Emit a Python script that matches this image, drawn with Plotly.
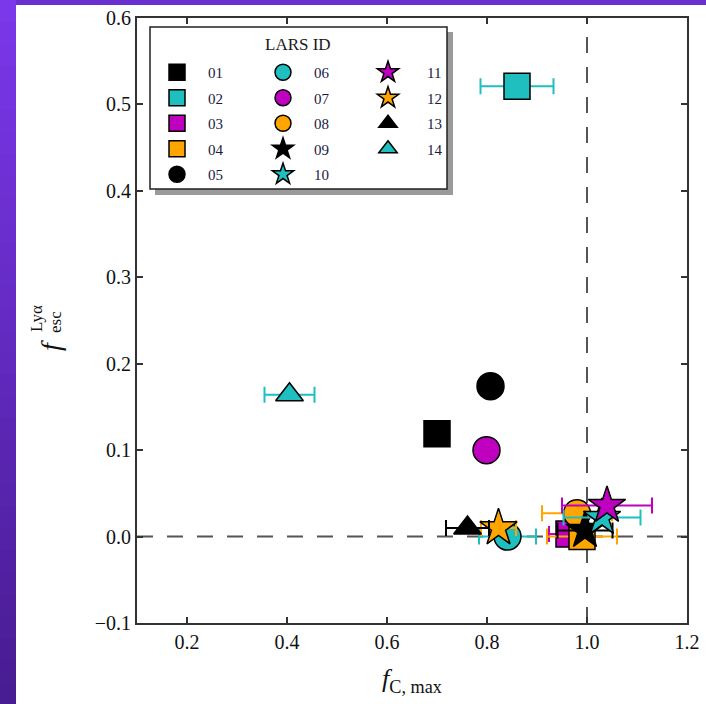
import plotly.graph_objects as go

# ---------------- data ----------------
lars_ids = ["01", "02", "03", "04", "05", "06", "07", "08", "09", "10", "11", "12", "13", "14"]
fc_max = [0.70, 0.86, 0.964, 0.99, 0.807, 0.841, 0.799, 0.98, 0.996, 1.03, 1.04, 0.823, 0.761, 0.405]
fc_err = [0.018, 0.073, 0.04, 0.07, 0.02, 0.057, 0.02, 0.07, 0.055, 0.077, 0.09, 0.035, 0.043, 0.05]
f_esc = [0.119, 0.521, 0.003, 0.000, 0.174, 0.000, 0.100, 0.027, 0.007, 0.022, 0.036, 0.010, 0.010, 0.164]
symbols = ["square", "square", "square", "square", "circle", "circle", "circle", "circle",
           "star", "star", "star", "star", "triangle-up", "triangle-up"]
colors = ["#000000", "#1fbfbf", "#bf00bf", "#ffa500", "#000000", "#1fbfbf", "#bf00bf", "#ffa500",
          "#000000", "#1fbfbf", "#bf00bf", "#ffa500", "#000000", "#1fbfbf"]
legend_cols = ["legend"] * 5 + ["legend2"] * 5 + ["legend3"] * 4
x_ticks = [0.2, 0.4, 0.6, 0.8, 1.0, 1.2]
y_ticks = [-0.1, 0.0, 0.1, 0.2, 0.3, 0.4, 0.5, 0.6]

W, H = 706, 704
L, R, T, B = 137, 19, 18, 81
PW, PH = W - L - R, H - T - B


def px(x):
    return (x - L) / PW


def py(y):
    return (H - B - y) / PH


SERIF = "Liberation Serif, DejaVu Serif, serif"
size_map = {"square": 26, "circle": 27, "star": 28, "triangle-up": 24}

fig = go.Figure()
for i, lid in enumerate(lars_ids):
    fig.add_trace(go.Scatter(
        x=[fc_max[i]], y=[f_esc[i]], mode="markers", name=lid,
        legend=legend_cols[i], legendgroup=lid,
        marker=dict(symbol=symbols[i], size=size_map[symbols[i]], color=colors[i],
                    line=dict(color="black", width=1.5)),
        error_x=dict(type="data", array=[fc_err[i]], color=colors[i], thickness=2, width=8),
        showlegend=True,
    ))

shapes = []
# purple background gradient on the left strip
top_c = (0x7b, 0x37, 0xea)
bot_c = (0x48, 0x1c, 0x92)
n = 32
for k in range(n):
    t = k / (n - 1)
    c = tuple(int(round(top_c[j] + (bot_c[j] - top_c[j]) * t)) for j in range(3))
    y0p = H * k / n
    y1p = H * (k + 1) / n + 1
    shapes.append(dict(type="rect", xref="paper", yref="paper", layer="below",
                       x0=px(-5), x1=px(16), y0=py(y1p), y1=py(y0p),
                       fillcolor="rgb(%d,%d,%d)" % c, line=dict(width=0)))
# white panel
shapes.append(dict(type="rect", xref="paper", yref="paper", layer="below",
                   x0=px(16), x1=px(W + 40), y0=py(H + 40), y1=py(5),
                   fillcolor="white", line=dict(width=0)))
# legend shadow and box
shapes.append(dict(type="rect", xref="paper", yref="paper", layer="below",
                   x0=px(155), x1=px(453), y0=py(195), y1=py(32),
                   fillcolor="#9a9a9a", line=dict(width=0)))
shapes.append(dict(type="rect", xref="paper", yref="paper", layer="below",
                   x0=px(150), x1=px(447), y0=py(189), y1=py(27),
                   fillcolor="white", line=dict(color="#222", width=1.5)))
# dashed reference lines
shapes.append(dict(type="line", xref="x", yref="paper", layer="below",
                   x0=1.0, x1=1.0, y0=0, y1=1, line=dict(color="#555", width=2, dash="16px,14px")))
shapes.append(dict(type="line", xref="paper", yref="y", layer="below",
                   x0=0, x1=1, y0=0.0, y1=0.0, line=dict(color="#555", width=2, dash="16px,14px")))

leg_common = dict(bgcolor="rgba(0,0,0,0)", borderwidth=0, font=dict(family=SERIF, size=15, color="#1a1a40"),
                  traceorder="grouped", tracegroupgap=3, itemsizing="trace",
                  xanchor="left", yanchor="top")

annotations = [
    dict(text="LARS ID", xref="paper", yref="paper", x=px(298), y=py(45),
         showarrow=False, font=dict(family=SERIF, size=17, color="#1a1a1a"),
         xanchor="center", yanchor="middle"),
    # y-axis title: f with stacked superscript / subscript
    dict(text="<i>f</i>", xref="paper", yref="paper", x=px(50), y=py(346),
         showarrow=False, textangle=-90, font=dict(family=SERIF, size=28, color="#111"),
         xanchor="center", yanchor="middle"),
    dict(text="Ly\u03b1", xref="paper", yref="paper", x=px(36), y=py(319),
         showarrow=False, textangle=-90, font=dict(family=SERIF, size=17, color="#111"),
         xanchor="center", yanchor="middle"),
    dict(text="esc", xref="paper", yref="paper", x=px(56), y=py(322),
         showarrow=False, textangle=-90, font=dict(family=SERIF, size=17, color="#111"),
         xanchor="center", yanchor="middle"),
]

fig.update_layout(
    width=W, height=H,
    margin=dict(l=L, r=R, t=T, b=B, autoexpand=False),
    paper_bgcolor="#6a2fd0",
    plot_bgcolor="rgba(0,0,0,0)",
    shapes=shapes,
    legend=dict(x=px(146), y=py(56), itemwidth=52, **leg_common),
    legend2=dict(x=px(252), y=py(56), itemwidth=52, **leg_common),
    legend3=dict(x=px(349), y=py(56), itemwidth=68, **leg_common),
    annotations=annotations,
    xaxis=dict(range=[0.1, 1.2], tickvals=x_ticks, ticktext=["%.1f" % v for v in x_ticks],
               automargin=False,
               ticks="inside", ticklen=6, tickwidth=1.5, tickcolor="#333",
               showline=True, linecolor="#333", linewidth=2, mirror="allticks",
               showgrid=False, zeroline=False,
               tickfont=dict(family=SERIF, size=20, color="#111"),
               title=dict(text="<i>f</i><sub>C, max</sub>", font=dict(family=SERIF, size=26, color="#111"),
                          standoff=17)),
    yaxis=dict(range=[-0.1, 0.6], tickvals=y_ticks,
               ticktext=[("\u2212%.1f" % abs(v)) if v < 0 else "%.1f" % v for v in y_ticks],
               automargin=False,
               ticks="inside", ticklen=6, tickwidth=1.5, tickcolor="#333",
               showline=True, linecolor="#333", linewidth=2, mirror="allticks",
               showgrid=False, zeroline=False,
               tickfont=dict(family=SERIF, size=20, color="#111")),
)

fig.write_html("out.html")
